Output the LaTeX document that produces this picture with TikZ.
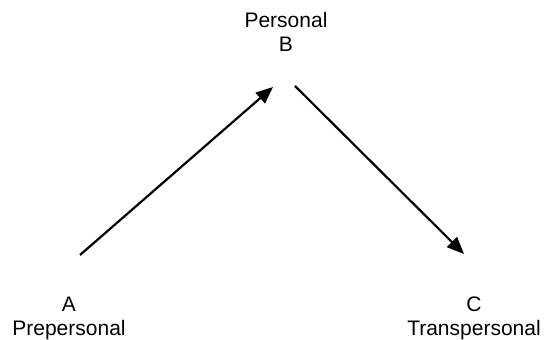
\documentclass[tikz,border=0pt]{standalone}
\usepackage{fontspec}
\setmainfont{Liberation Sans}
\usetikzlibrary{arrows.meta}
\begin{document}
\begin{tikzpicture}[x=1pt,y=1pt,
  lbl/.style={font=\fontsize{21}{24}\selectfont, inner sep=0pt, anchor=base},
  arr/.style={line width=2.2pt, -{Triangle[length=17pt,width=14pt]}}]
\useasboundingbox (0,0) rectangle (547,340);
% labels
\node[lbl] (pname)   at (286,312) {Personal};
\node[lbl] (pletter) at (286,288) {B};
\node[lbl] (aletter) at (69,28) {A};
\node[lbl] (aname)   at (69,4) {Prepersonal};
\node[lbl] (cletter) at (474,28) {C};
\node[lbl] (cname)   at (474,4) {Transpersonal};
% connector ends
\coordinate (a1) at (80,85);
\coordinate (a2) at (273,253);
\coordinate (b1) at (295,254);
\coordinate (b2) at (464,86);
\draw[arr] (a1) -- (a2);
\draw[arr] (b1) -- (b2);
\end{tikzpicture}
\end{document}
